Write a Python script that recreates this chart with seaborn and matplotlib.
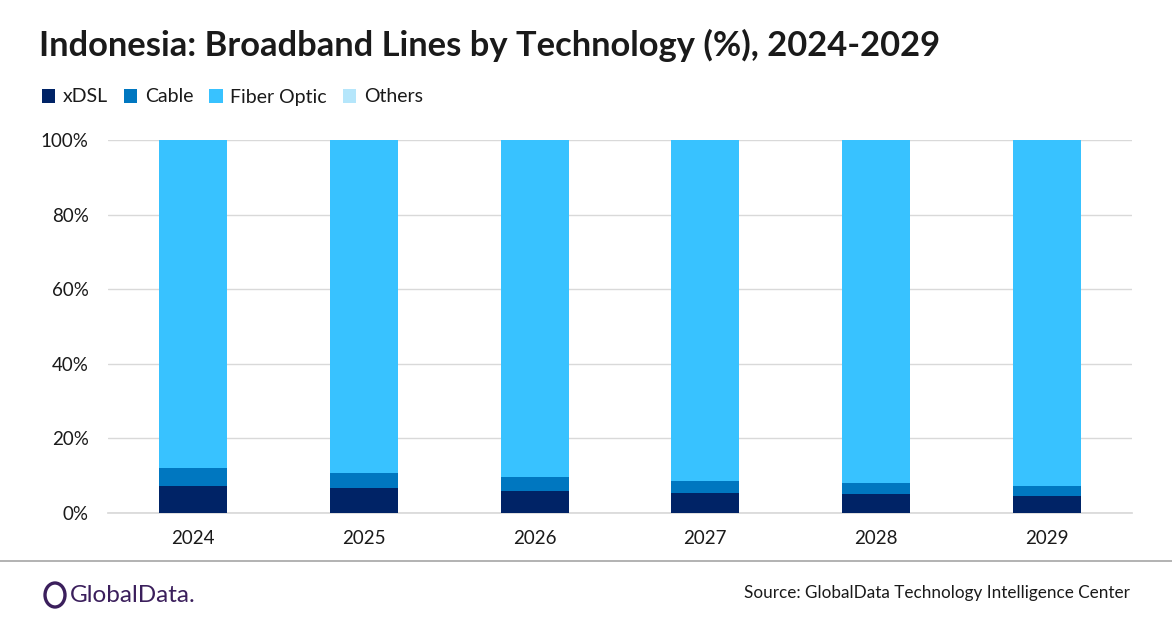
import numpy as np
import pandas as pd
import matplotlib
matplotlib.use("Agg")
import matplotlib.pyplot as plt
from matplotlib.patches import Patch, Ellipse
import seaborn as sns

# data (% of broadband lines)
years = ["2024", "2025", "2026", "2027", "2028", "2029"]
xdsl = [7.2, 6.7, 5.9, 5.4, 5.1, 4.6]
cable = [4.8, 4.0, 3.8, 3.2, 2.9, 2.6]
others = [0.1, 0.1, 0.1, 0.1, 0.1, 0.1]
fiber = [100 - a - b - c for a, b, c in zip(xdsl, cable, others)]

series = ["xDSL", "Cable", "Fiber Optic", "Others"]
colors = ["#002366", "#0077C0", "#38C2FF", "#B5E6FB"]

sns.set_theme(style="white")
plt.rcParams["font.family"] = ["Lato", "DejaVu Sans"]

df = pd.DataFrame({"year": years, "xDSL": xdsl, "Cable": cable,
                   "Fiber Optic": fiber, "Others": others})
# cumulative tops so bars can be overlaid back to front
cum = df[series].cumsum(axis=1)

fig = plt.figure(figsize=(11.72, 6.28), dpi=100)
ax = fig.add_axes([108 / 1172, 1 - 513 / 628, 1024 / 1172, 373 / 628])

for name, col in reversed(list(zip(series, colors))):
    sns.barplot(x=df["year"], y=cum[name], color=col, width=0.4,
                saturation=1, linewidth=0, edgecolor="none", ax=ax, zorder=3)

ax.set_ylim(0, 100)
ax.set_xlim(-0.5, 5.5)
ax.set_yticks(range(0, 101, 20))
ax.set_yticklabels([f"{v}%" for v in range(0, 101, 20)])
ax.yaxis.grid(True, color="#d9d9d9", linewidth=1, zorder=0)
ax.set_xlabel("")
ax.set_ylabel("")
for s in ["top", "right", "left"]:
    ax.spines[s].set_visible(False)
ax.spines["bottom"].set_color("#d9d9d9")
ax.tick_params(axis="both", length=0, labelsize=13.5, colors="#1a1a1a")
ax.tick_params(axis="y", pad=14)
ax.tick_params(axis="x", pad=12)

fig.text(39 / 1172, 1 - 45 / 628, "Indonesia: Broadband Lines by Technology (%), 2024-2029",
         fontsize=24.8, fontweight="bold", color="#1a1a1a", va="center", ha="left")

handles = [Patch(facecolor=c, edgecolor="none") for c in colors]
fig.legend(handles, series, loc="center left", bbox_to_anchor=(24 / 1172, 1 - 97 / 628),
           ncol=4, frameon=False, fontsize=14, handlelength=0.7, handleheight=0.7,
           handletextpad=0.4, columnspacing=0.8, labelcolor="#1a1a1a")

# footer line and branding
fig.add_artist(plt.Line2D([0, 1], [1 - 561 / 628, 1 - 561 / 628], color="#a6a6a6", linewidth=1.2))
fig.text(70 / 1172, 1 - 596 / 628, "GlobalData.", fontsize=17.5, color="#3b1f5c",
         va="center", ha="left")
fig.add_artist(Ellipse((55 / 1172, 1 - 595 / 628), 20 / 1172, 24 / 628,
                       transform=fig.transFigure, fill=False,
                       edgecolor="#3b1f5c", linewidth=2.4))
fig.text(1130 / 1172, 1 - 593 / 628, "Source: GlobalData Technology Intelligence Center",
         fontsize=12.3, color="#1a1a1a", va="center", ha="right")

fig.savefig("out.png", dpi=100)
